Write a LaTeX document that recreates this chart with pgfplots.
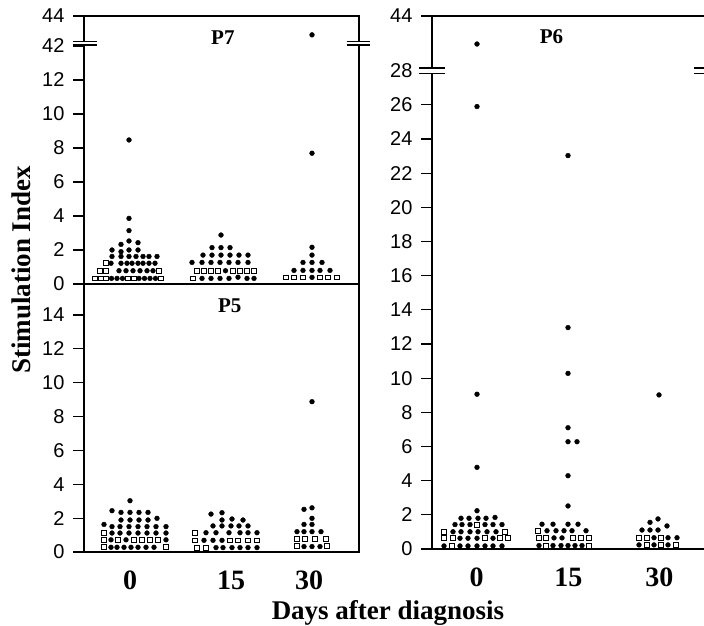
\documentclass[border=0pt]{standalone}
\usepackage{fontspec}
\setmainfont{Liberation Serif}
\newfontfamily\arial{Liberation Sans}
\usepackage{pgfplots}
\usepackage{pgfplotstable}
\pgfplotsset{compat=1.18}
% tick label text: Arial-like, pushed away from the tick
\newcommand\tl[1]{{\arial\fontsize{20}{20}\selectfont #1}\hspace*{5pt}}

% x = horizontal place of the dot in the panel (dot-plot spread), y = stimulation index
\pgfplotstableread{
x y
111.5 0.33
117 0.33
122.5 0.33
139 0.33
144.5 0.33
150 0.33
155.5 0.33
119 0.78
126 0.78
133 0.78
140 0.78
147 0.78
153 0.78
111 1.22
121 1.22
127 1.22
132 1.22
138 1.22
143 1.22
149 1.22
155 1.22
112 1.62
121 1.62
129 1.62
136 1.62
143 1.62
149 1.62
157 1.62
112 2.0
121 1.9
129 2.0
138 2.0
121 2.33
129 2.53
138 2.43
129 3.14
129 3.86
129 8.47
221 2.88
212 2.14
221 2.14
230 2.14
203 1.7
212 1.7
221 1.7
230 1.7
239 1.7
248 1.7
192 1.27
202 1.27
211 1.27
220 1.27
229 1.27
238 1.27
248 1.27
225.5 0.78
202 0.33
211 0.33
220 0.33
229 0.33
238 0.4
247 0.33
254 0.33
312 42.74
312 7.69
312 2.16
312 1.7
303 1.27
312 1.27
322 1.27
294 0.8
303 0.8
312 0.8
320 0.8
330 0.8
312 0.39
}\pSevenC
\pgfplotstableread{
x y
95 0.33
100.5 0.33
106 0.33
128 0.33
133.5 0.33
161 0.33
100 0.78
106 0.78
159 0.78
106 1.22
197 0.78
204 0.78
211 0.78
218 0.78
233 0.78
240 0.78
247 0.78
254 0.78
193 0.33
286 0.39
294 0.39
303 0.39
320 0.39
328 0.39
337 0.39
}\pSevenS

\pgfplotstableread{
x y
111 0.28
117 0.28
124 0.28
131 0.28
138 0.28
146 0.28
154 0.28
111 0.72
126 0.72
166 0.72
112 1.12
120 1.12
129 1.12
138 1.12
147 1.12
156 1.12
166 1.12
104 1.63
112 1.5
120 1.5
129 1.5
138 1.5
147 1.5
156 1.5
166 1.5
121 1.89
130 1.89
139 1.89
148 1.89
157 1.99
112 2.44
121 2.34
130 2.34
139 2.34
148 2.34
130 3.03
216 0.26
223 0.26
232 0.26
240 0.26
248 0.26
257 0.26
204 0.69
213 0.69
222 0.69
206 1.14
216 1.14
229 1.14
240 1.14
248 1.14
257 1.14
213 1.54
222 1.54
231 1.54
239 1.54
248 1.54
222 1.89
232 1.95
243 1.89
211 2.24
222 2.32
304 0.32
312 0.32
320 0.32
297 1.2
304 1.2
312 1.2
321 1.2
304 1.63
312 1.63
312 1.99
304 2.52
312 2.61
312 8.88
}\pFiveC
\pgfplotstableread{
x y
104 0.28
166 0.28
104 0.72
118 0.72
134 0.72
142 0.72
150 0.72
158 0.72
104 1.15
197 0.26
206 0.26
195 0.69
230 0.69
238 0.69
248 0.69
257 0.69
195 1.14
297 0.77
305 0.77
315 0.77
326 0.77
297 0.35
327 0.35
}\pFiveS

\pgfplotstableread{
x y
444 0.18
460 0.18
468 0.18
477 0.18
485 0.18
493 0.18
502 0.18
460 0.63
468 0.63
477 0.63
493 0.63
453 1.01
461 1.01
470 1.01
478 1.01
487 1.01
496 1.01
455 1.43
462 1.43
470 1.43
485 1.43
493 1.43
502 1.43
461 1.8
469 1.8
478 1.8
486 1.8
495 1.85
477 2.24
477 4.78
477 9.06
477 25.9
477 35.8
539 0.2
553 0.2
561 0.2
568 0.2
575 0.2
582 0.2
554 0.65
562 0.65
547 1.07
556 1.07
564 1.07
572 1.07
586 1.07
542 1.45
553 1.45
568 1.45
578 1.45
568 2.52
568 4.29
568 6.28
577 6.28
568 7.1
568 10.28
568 12.96
568 23.03
639 0.24
654 0.24
668 0.24
654 0.66
668 0.66
677 0.66
642 1.11
650 1.11
658 1.11
667 1.35
650 1.56
658 1.76
659 9.02
}\pSixC
\pgfplotstableread{
x y
452 0.18
444 0.63
453 0.63
485 0.63
500 0.63
508 0.63
444 1.01
505 1.01
477 1.43
546 0.2
589 0.2
539 0.65
546 0.65
573 0.65
581 0.65
589 0.65
538 1.07
647 0.24
661 0.24
676 0.24
639 0.66
647 0.66
661 0.66
}\pSixS

\pgfplotsset{
  panel/.style={
    scale only axis, anchor=south west, clip=false,
    axis line style={line width=1.2pt},
    tick align=outside, ytick pos=left,
    major tick length=11pt,
    ytick style={line width=1.2pt, black},
    xtick style={draw=none},
    x tick label style={font=\bfseries\fontsize{28}{28}\selectfont, yshift=-4pt},
  },
  dotC/.style={only marks, mark=*, mark size=2.4pt, black},
  dotS/.style={only marks, mark=square*, mark size=2.4pt,
    mark options={draw=black, fill=white, line width=0.8pt}},
}
\tikzset{brk/.style={line width=1.2pt},
  ptitle/.style={font=\bfseries\fontsize{21}{21}\selectfont}}

\begin{document}
\begin{tikzpicture}[x=1pt,y=1pt]
\path[use as bounding box] (0,0) rectangle (704,625);

% P7
\begin{axis}[panel, at={(84pt,341pt)}, width=275pt, height=268pt,
  xmin=84, xmax=359, ymin=0, ymax=44,
  y coord trafo/.code={\pgfmathparse{#1>20 ? 14+(#1-42)*0.88 : #1}},
  ytick={0,2,4,6,8,10,12,42,44},
  yticklabels={\tl{0},\tl{2},\tl{4},\tl{6},\tl{8},\tl{10},\tl{12},\tl{42},\tl{44}},
  xtick=\empty]
\addplot[dotC] table[x=x,y=y] {\pSevenC};
\addplot[dotS] table[x=x,y=y] {\pSevenS};
\node[ptitle] at (rel axis cs:0.505,0.918) {P7};
\fill[white] (rel axis cs:-0.04,0.8915) rectangle (rel axis cs:0.047,0.9042);
\draw[brk] (rel axis cs:-0.04,0.8915) -- (rel axis cs:0.047,0.8915);
\draw[brk] (rel axis cs:-0.04,0.9042) -- (rel axis cs:0.047,0.9042);
\fill[white] (rel axis cs:0.955,0.8915) rectangle (rel axis cs:1.04,0.9042);
\draw[brk] (rel axis cs:0.955,0.8915) -- (rel axis cs:1.04,0.8915);
\draw[brk] (rel axis cs:0.955,0.9042) -- (rel axis cs:1.04,0.9042);
\end{axis}

% P5
\begin{axis}[panel, at={(84pt,73pt)}, width=275pt, height=268pt,
  xmin=84, xmax=359, ymin=0, ymax=15.83,
  ytick={0,2,4,6,8,10,12,14},
  yticklabels={\tl{0},\tl{2},\tl{4},\tl{6},\tl{8},\tl{10},\tl{12},\tl{14}},
  xtick={130,231,309}, xticklabels={0,15,30}]
\addplot[dotC] table[x=x,y=y] {\pFiveC};
\addplot[dotS] table[x=x,y=y] {\pFiveS};
\node[ptitle] at (rel axis cs:0.53,0.918) {P5};
\end{axis}

% P6
\begin{axis}[panel, at={(432pt,76pt)}, width=273pt, height=533pt,
  xmin=432, xmax=705, ymin=0, ymax=44,
  y coord trafo/.code={\pgfmathparse{#1>28 ? 28+(#1-28)*0.2 : #1}},
  ytick={0,2,4,6,8,10,12,14,16,18,20,22,24,26,28,44},
  yticklabels={\tl{0},\tl{2},\tl{4},\tl{6},\tl{8},\tl{10},\tl{12},\tl{14},\tl{16},\tl{18},\tl{20},\tl{22},\tl{24},\tl{26},\tl{28},\tl{44}},
  xtick={476.7,568.3,659.3}, xticklabels={0,15,30}]
\addplot[dotC] table[x=x,y=y] {\pSixC};
\addplot[dotS] table[x=x,y=y] {\pSixS};
\node[ptitle] at (rel axis cs:0.438,0.9606) {P6};
\fill[white] (rel axis cs:-0.048,0.8926) rectangle (rel axis cs:0.048,0.9026);
\draw[brk] (rel axis cs:-0.048,0.8926) -- (rel axis cs:0.048,0.8926);
\draw[brk] (rel axis cs:-0.048,0.9026) -- (rel axis cs:0.048,0.9026);
\fill[white] (rel axis cs:0.96,0.8926) rectangle (rel axis cs:1.05,0.9026);
\draw[brk] (rel axis cs:0.96,0.8926) -- (rel axis cs:1.05,0.8926);
\draw[brk] (rel axis cs:0.96,0.9026) -- (rel axis cs:1.05,0.9026);
\end{axis}

\node[rotate=90, font=\bfseries\fontsize{27}{27}\selectfont] at (21,355) {Stimulation Index};
\node[anchor=base, font=\bfseries\fontsize{27}{27}\selectfont] at (388,6) {Days after diagnosis};
\end{tikzpicture}
\end{document}
